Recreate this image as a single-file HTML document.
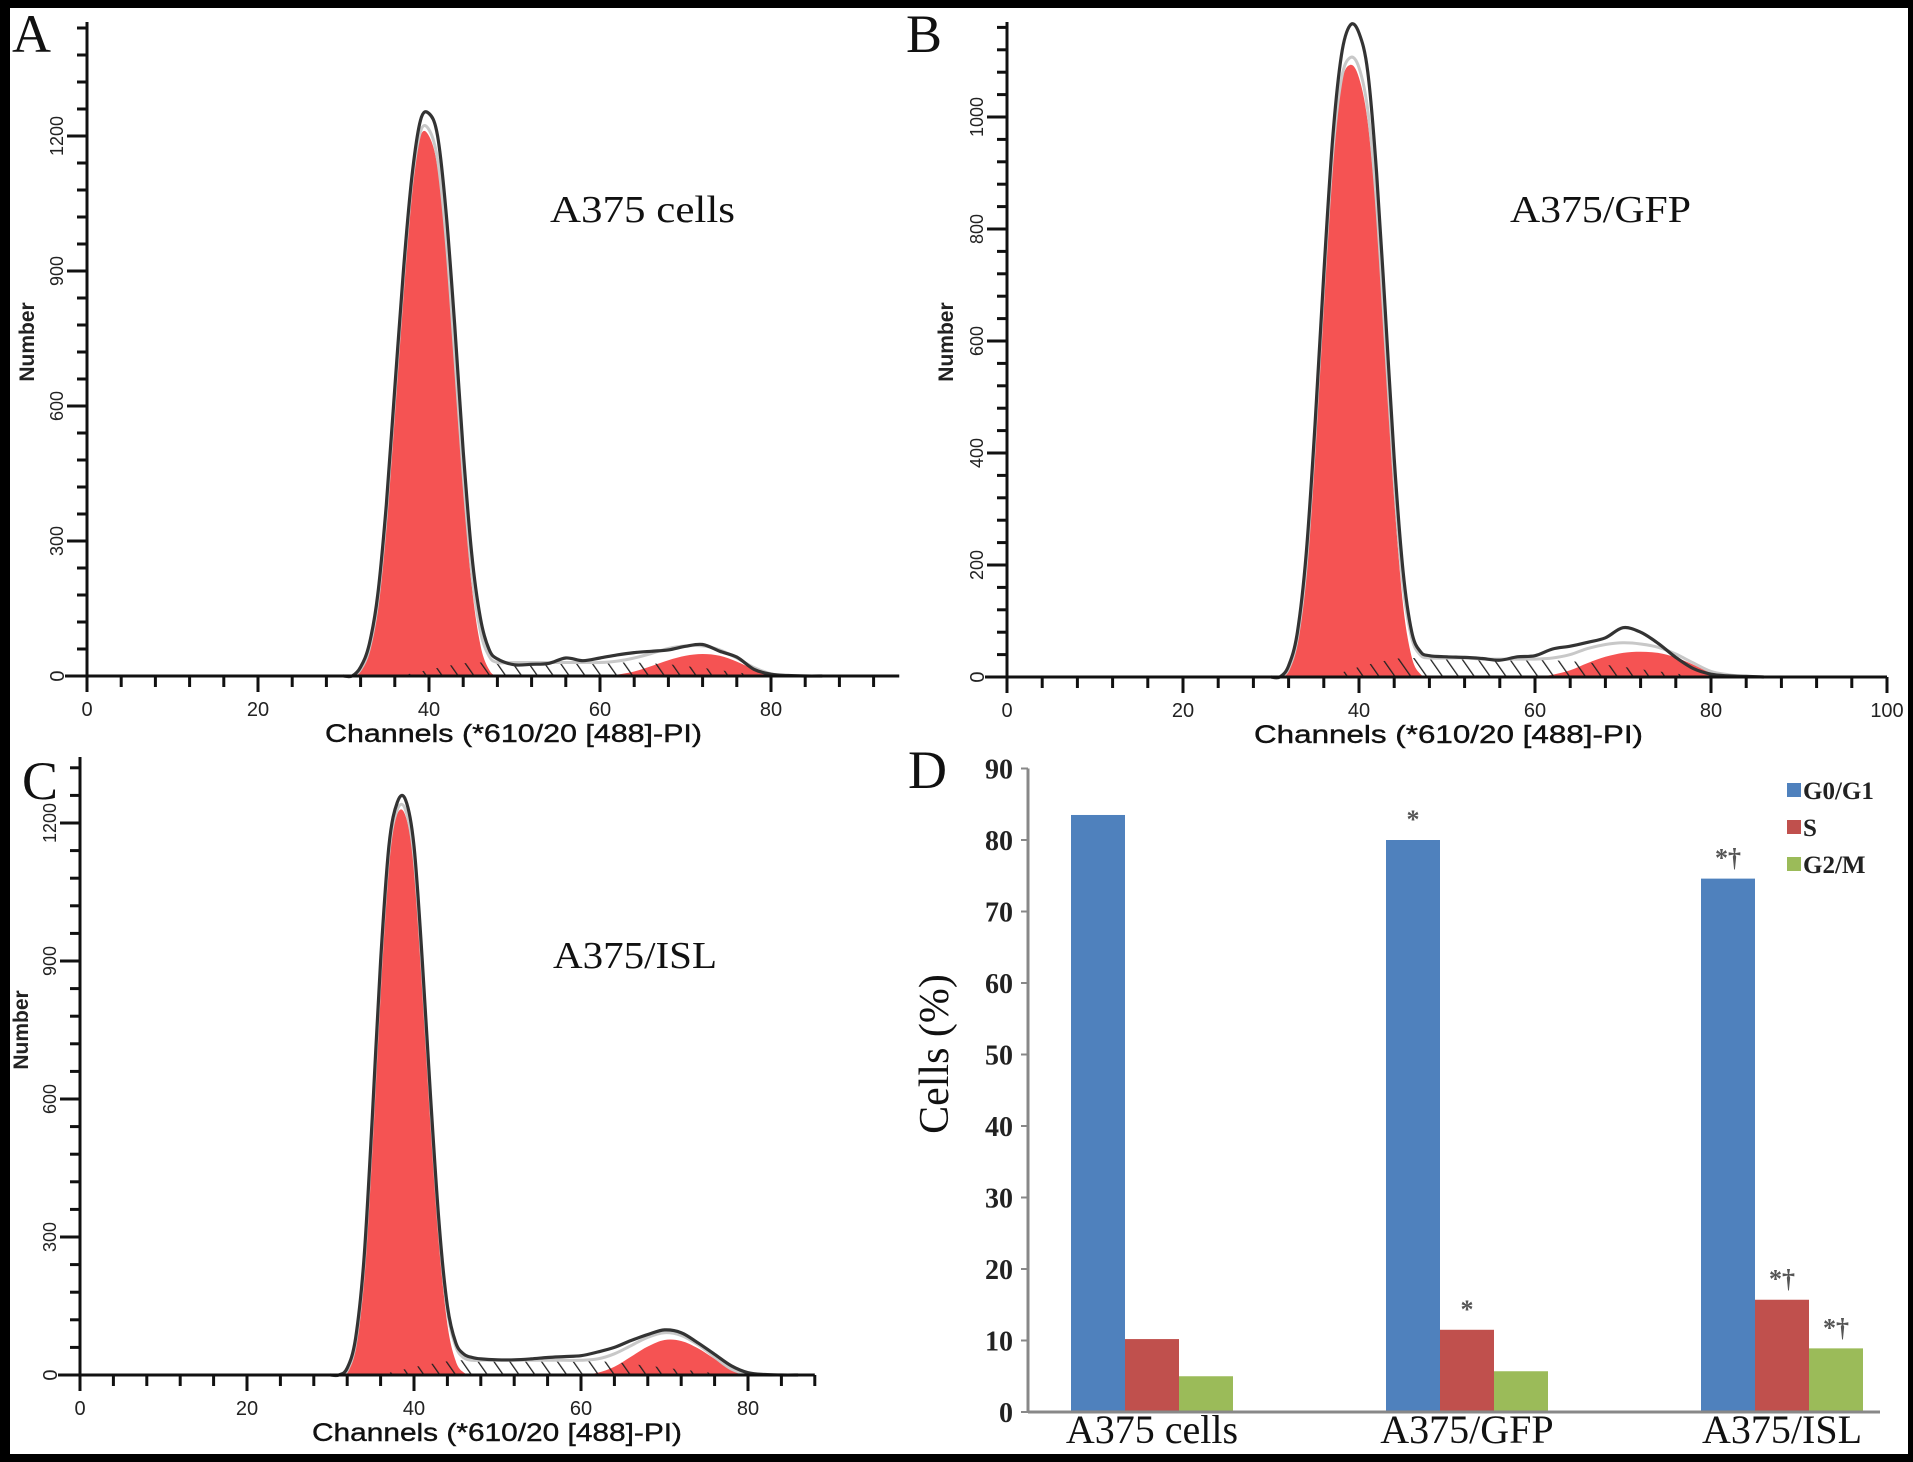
<!DOCTYPE html>
<html><head><meta charset="utf-8"><style>
html,body{margin:0;padding:0;background:#000;}
svg{display:block;}
.serif{font-family:"Liberation Serif",serif;}
.sans{font-family:"Liberation Sans",sans-serif;}
</style></head><body>
<svg id="fig" width="1913" height="1462" viewBox="0 0 1913 1462" xmlns="http://www.w3.org/2000/svg">
<defs>
<pattern id="hatch" patternUnits="userSpaceOnUse" width="13" height="13" patternTransform="rotate(-35)">
<line x1="0" y1="0" x2="0" y2="13" stroke="#222" stroke-width="2.6"/>
</pattern>
</defs>
<rect x="0" y="0" width="1913" height="1462" fill="#000"/>
<rect x="10" y="8" width="1898" height="1446" fill="#fff"/>
<g id="layer"></g>
</svg>
<script>
// ---------- Histogram data (channel vs. cell count) ----------
const channels = [30,31,32,33,34,35,36,37,38,39,40,41,42,43,44,45,46,47,48,50,52,54,56,58,60,62,64,66,68,70,72,74,76,78,80,82,84,86];

const envA = [0,0,20,70,180,380,640,900,1110,1235,1250,1200,1030,780,500,270,130,60,38,25,26,28,40,34,40,47,52,55,58,66,70,55,42,15,4,1,0,0];
const g1A  = [0,0,15,60,165,360,620,880,1090,1200,1200,1130,950,690,420,200,70,15,0,0,0,0,0,0,0,0,0,0,0,0,0,0,0,0,0,0,0,0];
const g2A  = [0,0,0,0,0,0,0,0,0,0,0,0,0,0,0,0,0,0,0,0,0,0,0,0,0,3,10,22,35,45,49,45,32,15,5,1,0,0];
const sA   = [0,0,0,0,0,0,0,2,6,10,14,18,22,25,28,30,30,30,30,30,30,30,30,30,30,30,30,28,26,22,18,13,8,4,0,0,0,0];

const envB = [0,0,20,80,220,450,720,960,1110,1164,1150,1080,900,650,390,190,80,45,38,36,35,33,30,36,38,50,55,62,70,88,80,60,35,15,5,2,1,0];
const g1B  = [0,0,15,70,200,430,700,930,1060,1093,1070,990,820,570,320,130,35,5,0,0,0,0,0,0,0,0,0,0,0,0,0,0,0,0,0,0,0,0];
const g2B  = [0,0,0,0,0,0,0,0,0,0,0,0,0,0,0,0,0,0,0,0,0,0,0,0,0,4,12,25,36,43,45,43,35,22,10,4,1,0];
const sB   = [0,0,0,0,0,0,0,3,8,13,18,22,26,29,32,34,34,34,34,34,34,32,32,32,32,30,28,26,22,18,14,10,6,3,0,0,0,0];

const envC = [0,0,15,80,250,560,900,1150,1245,1250,1150,900,600,330,150,70,45,38,35,33,33,35,38,40,42,50,60,75,88,98,92,70,45,20,5,1,0,0];
const g1C  = [0,0,10,70,235,540,880,1130,1220,1215,1110,860,560,290,110,30,5,0,0,0,0,0,0,0,0,0,0,0,0,0,0,0,0,0,0,0,0,0];
const g2C  = [0,0,0,0,0,0,0,0,0,0,0,0,0,0,0,0,0,0,0,0,0,0,0,0,0,5,18,40,62,76,74,58,35,12,2,0,0,0];
const sC   = [0,0,0,0,0,0,2,5,9,13,17,21,24,27,30,32,32,32,32,32,32,32,32,32,32,30,28,24,20,16,12,8,4,1,0,0,0,0];

const xTicksAC = [0,20,40,60,80];
const xTicksB = [0,20,40,60,80,100];
const yTicksAC = [300,600,900,1200];
const yTicksB = [200,400,600,800,1000];

// ---------- Bar chart data ----------
const groups = ["A375 cells","A375/GFP","A375/ISL"];
const phases = ["G0/G1","S","G2/M"];
const g0g1 = [83.5,80.0,74.6];
const sPhase = [10.2,11.5,15.7];
const g2m = [5.0,5.7,8.9];
const barTicks = [0,10,20,30,40,50,60,70,80,90];
const sigG0 = ["","*","*†"];
const sigS = ["","*","*†"];
const sigG2 = ["","","*†"];

const NS = "http://www.w3.org/2000/svg";
const layer = document.getElementById("layer");
function mk(tag, attrs, parent, text){
  const e = document.createElementNS(NS, tag);
  for (const k in attrs) e.setAttribute(k, attrs[k]);
  if (text !== undefined) e.textContent = text;
  (parent || layer).appendChild(e);
  return e;
}
function smoothPath(pts){
  let d = "M" + pts[0][0].toFixed(1) + "," + pts[0][1].toFixed(1);
  for (let i = 0; i < pts.length - 1; i++){
    const p0 = pts[Math.max(0,i-1)], p1 = pts[i], p2 = pts[i+1], p3 = pts[Math.min(pts.length-1,i+2)];
    const c1x = p1[0] + (p2[0]-p0[0])/6, c1y = p1[1] + (p2[1]-p0[1])/6;
    const c2x = p2[0] - (p3[0]-p1[0])/6, c2y = p2[1] - (p3[1]-p1[1])/6;
    d += " C" + c1x.toFixed(1)+","+c1y.toFixed(1)+" "+c2x.toFixed(1)+","+c2y.toFixed(1)+" "+p2[0].toFixed(1)+","+p2[1].toFixed(1);
  }
  return d;
}

function histogram(cfg){
  const g = mk("g", {});
  
  
  const X = c => cfg.x0 + c * cfg.sx;
  const Y = v => cfg.y0 - v * cfg.sy;
  const ptsOf = arr => channels.map((c,i) => [X(c), Math.min(Y(arr[i]), cfg.y0)]);
  const area = (arr, fill, nm) => {
    const d = smoothPath(ptsOf(arr)) + " L" + X(channels[channels.length-1]) + "," + cfg.y0 + " L" + X(channels[0]) + "," + cfg.y0 + " Z";
    const p = mk("path", {d: d, fill: fill, stroke: "none"}, g);
    
    
  };
  area(cfg.g1, "#f55353", "g1-peak-area");
  area(cfg.g2, "#f55353", "g2-peak-area");
  area(cfg.s, "url(#hatch)", "s-phase-hatch");
  const fit = cfg.g1.map((v,i) => v + cfg.g2[i] + cfg.s[i]);
  const fp = mk("path", {d: smoothPath(ptsOf(fit)), fill: "none", stroke: "#c8c8c8", "stroke-width": 3}, g);
  
  
  const ep = mk("path", {d: smoothPath(ptsOf(cfg.env)), fill: "none", stroke: "#333", "stroke-width": 3.2, "stroke-linejoin": "round"}, g);
  
  

  const ax = mk("line", {x1: X(0), y1: cfg.y0, x2: X(cfg.xmax), y2: cfg.y0, stroke: "#111", "stroke-width": 3}, g);
  
  
  const ay = mk("line", {x1: X(0), y1: cfg.y0, x2: X(0), y2: cfg.ytop, stroke: "#111", "stroke-width": 3}, g);
  
  
  for (let c = 0; c <= cfg.xmax; c += 4){
    const major = c % 20 === 0;
    mk("line", {x1: X(c), y1: cfg.y0, x2: X(c), y2: cfg.y0 + (major ? 16 : 11), stroke: "#111", "stroke-width": 3}, g);
  }
  cfg.xTicks.forEach(t => {
    const tl = mk("text", {x: X(t), y: cfg.y0 + 40, "text-anchor": "middle", "font-size": 20, fill: "#222", class: "sans"}, g, String(t));
    
    
  });
  for (let v = cfg.yMinor; Y(v) > cfg.ytop; v += cfg.yMinor){
    mk("line", {x1: X(0), y1: Y(v), x2: X(0) - 10, y2: Y(v), stroke: "#111", "stroke-width": 3}, g);
  }
  mk("line", {x1: X(0), y1: cfg.y0, x2: X(0) - 22, y2: cfg.y0, stroke: "#111", "stroke-width": 3}, g);
  mk("text", {x: X(0) - 30, y: cfg.y0 + 7, "text-anchor": "middle", "font-size": 20, fill: "#222", class: "sans", transform: "rotate(-90 " + (X(0)-30) + " " + cfg.y0 + ")"}, g, "0");
  cfg.yTicks.forEach(t => {
    mk("line", {x1: X(0), y1: Y(t), x2: X(0) - 20, y2: Y(t), stroke: "#111", "stroke-width": 3}, g);
    const tl = mk("text", {x: X(0) - 24, y: Y(t), "text-anchor": "middle", "font-size": 18, fill: "#222", class: "sans", transform: "rotate(-90 " + (X(0)-24) + " " + Y(t) + ")"}, g, String(t));
    
    
  });
  const xt = mk("text", {x: cfg.xtx, y: cfg.y0 + 66, "font-size": 25, fill: "#111", stroke: "#111", "stroke-width": 0.4, class: "sans", textLength: cfg.xtw, lengthAdjust: "spacingAndGlyphs"}, g, "Channels (*610/20 [488]-PI)");
  
  
  const yt = mk("text", {x: cfg.ytx, y: cfg.yty, "text-anchor": "middle", "font-size": 21, "font-weight": "bold", fill: "#222", class: "sans", transform: "rotate(-90 " + cfg.ytx + " " + cfg.yty + ")"}, g, "Number");
  
  
  const ti = mk("text", {x: cfg.tx, y: cfg.ty, "font-size": 38, fill: "#111", class: "serif", textLength: cfg.tw, lengthAdjust: "spacingAndGlyphs"}, g, cfg.title);
  
  
  const pl = mk("text", {x: cfg.px, y: cfg.py, "font-size": 54, fill: "#111", class: "serif"}, g, cfg.panel);
  
  
}

histogram({name:"panel-a-histogram", x0:87, y0:676, sx:8.55, sy:0.45, xmax:95, ytop:22, yMinor:60,
  env:envA, g1:g1A, g2:g2A, s:sA, xTicks:xTicksAC, yTicks:yTicksAC,
  xtx:325, xtw:377, ytx:34, yty:342, title:"A375 cells", tx:550, ty:222, tw:185, panel:"A", px:12, py:52});
histogram({name:"panel-b-histogram", x0:1007, y0:677, sx:8.8, sy:0.56, xmax:100, ytop:22, yMinor:40,
  env:envB, g1:g1B, g2:g2B, s:sB, xTicks:xTicksB, yTicks:yTicksB,
  xtx:1254, xtw:389, ytx:953, yty:342, title:"A375/GFP", tx:1510, ty:222, tw:181, panel:"B", px:906, py:52});
histogram({name:"panel-c-histogram", x0:80, y0:1375, sx:8.35, sy:0.46, xmax:88, ytop:757, yMinor:60,
  env:envC, g1:g1C, g2:g2C, s:sC, xTicks:xTicksAC, yTicks:yTicksAC,
  xtx:312, xtw:370, ytx:28, yty:1030, title:"A375/ISL", tx:553, ty:968, tw:164, panel:"C", px:22, py:799});

// ---------- Panel D bar chart ----------
(function(){
  const g = mk("g", {});
  
  
  const ax0 = 1028, y0 = 1412, sy = 7.15, bw = 54;
  const Y = v => y0 - v * sy;
  const GX = i => 1152 + i * 315;
  const colors = ["#4f81bd", "#c0504d", "#9bbb59"];
  const series = [g0g1, sPhase, g2m];
  const sigs = [sigG0, sigS, sigG2];
  series.forEach((vals, si) => {
    vals.forEach((v, i) => {
      const x = GX(i) - 1.5 * bw + si * bw;
      const r = mk("rect", {x: x, y: Y(v), width: bw, height: y0 - Y(v), fill: colors[si]}, g);
      
      
      if (sigs[si][i]){
        const t = mk("text", {x: x + bw/2, y: Y(v) - 12, "text-anchor": "middle", "font-size": 26, "font-weight": "bold", fill: "#555", class: "serif"}, g, sigs[si][i]);
        
        
      }
    });
  });
  const ax = mk("line", {x1: ax0, y1: y0, x2: 1880, y2: y0, stroke: "#888", "stroke-width": 3}, g);
  
  
  const ay = mk("line", {x1: ax0, y1: y0, x2: ax0, y2: Y(90), stroke: "#888", "stroke-width": 3}, g);
  
  
  barTicks.forEach(t => {
    mk("line", {x1: ax0 - 7, y1: Y(t), x2: ax0, y2: Y(t), stroke: "#888", "stroke-width": 2}, g);
    const tl = mk("text", {x: ax0 - 15, y: Y(t) + 10, "text-anchor": "end", "font-size": 28, "font-weight": "bold", fill: "#222", class: "serif"}, g, String(t));
    
    
  });
  groups.forEach((name, i) => {
    const t = mk("text", {x: GX(i), y: 1443, "text-anchor": "middle", "font-size": 40, fill: "#111", class: "serif"}, g, name);
    
    
  });
  const yt = mk("text", {x: 948, y: 1054, "text-anchor": "middle", "font-size": 42, fill: "#111", class: "serif", transform: "rotate(-90 948 1054)"}, g, "Cells (%)");
  
  
  phases.forEach((p, i) => {
    const yy = 790 + i * 37;
    const sw = mk("rect", {x: 1787, y: yy - 7, width: 14, height: 14, fill: colors[i]}, g);
    
    
    const lt = mk("text", {x: 1803, y: yy + 9, "font-size": 25, "font-weight": "bold", fill: "#222", class: "serif"}, g, p);
    
    
  });
  const pl = mk("text", {x: 908, y: 788, "font-size": 54, fill: "#111", class: "serif"}, g, "D");
  
  
})();
</script>
</body></html>
